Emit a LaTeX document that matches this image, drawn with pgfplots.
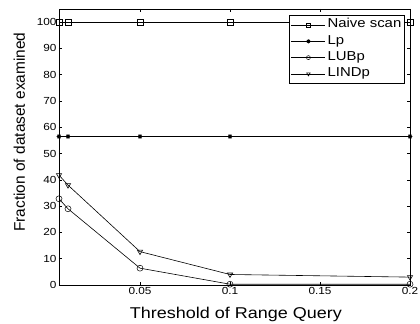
\documentclass[border=0pt]{standalone}
\usepackage{pgfplots}
\pgfplotsset{compat=1.18}
\usepackage{fontspec}
\setmainfont[FakeStretch=1.15]{Liberation Sans}
\newfontfamily\ylabfont{Liberation Sans}
\pgfdeclareplotmark{ast8}{%
  \pgfpathmoveto{\pgfqpoint{-\pgfplotmarksize}{0pt}}\pgfpathlineto{\pgfqpoint{\pgfplotmarksize}{0pt}}%
  \pgfpathmoveto{\pgfqpoint{0pt}{-\pgfplotmarksize}}\pgfpathlineto{\pgfqpoint{0pt}{\pgfplotmarksize}}%
  \pgfpathmoveto{\pgfqpoint{-0.707\pgfplotmarksize}{-0.707\pgfplotmarksize}}\pgfpathlineto{\pgfqpoint{0.707\pgfplotmarksize}{0.707\pgfplotmarksize}}%
  \pgfpathmoveto{\pgfqpoint{-0.707\pgfplotmarksize}{0.707\pgfplotmarksize}}\pgfpathlineto{\pgfqpoint{0.707\pgfplotmarksize}{-0.707\pgfplotmarksize}}%
  \pgfusepathqstroke}
\begin{document}
\begin{tikzpicture}
\begin{axis}[
  scale only axis,
  width=351bp, height=276bp,
  xmin=0.005, xmax=0.2, ymin=0, ymax=105,
  clip=false,
  xtick={0.05,0.1,0.15,0.2},
  xticklabels={0.05,0.1,0.15,0.2},
  ytick={0,10,...,100},
  tick align=inside,
  tick style={black, line width=0.5pt},
  major tick length=3.5bp,
  /pgf/number format/assume math mode=true,
  ticklabel style={font=\fontsize{10.3}{12}\selectfont},
  xticklabel style={yshift=1bp},
  yticklabel style={xshift=1bp},
  xlabel={Threshold of Range Query},
  ylabel={Fraction of dataset examined},
  xlabel style={font=\fontsize{15.7}{18}\selectfont, at={(axis description cs:0.504,-0.1214)}, anchor=base},
  ylabel style={font=\ylabfont\fontsize{15.5}{18}\selectfont, at={(axis description cs:-0.0969,0.554)}, anchor=base},
  axis line style={line width=0.7pt},
  legend style={at={(axis description cs:0.9858,0.978)}, anchor=north east,
    font=\fontsize{13}{15}\selectfont, draw=black, line width=0.6pt, inner sep=1.5bp,
    nodes={text height=9bp, text depth=3.5bp, inner sep=1.9bp}, row sep=0pt},
  legend cell align=left,
  legend image code/.code={\draw[mark repeat=2,mark phase=2,#1, mark size=2bp] plot coordinates {(0bp,0bp) (17bp,0bp) (34bp,0bp)};},
  every axis plot/.append style={black, line width=0.6pt, mark size=3bp, mark options={solid, line width=0.5pt, fill=none}},
]
\addplot[mark=square] coordinates {(0.005,100) (0.01,100) (0.05,100) (0.1,100) (0.2,100)};
\addlegendentry{Naive scan}
\addplot[mark=ast8, mark options={line width=0.8pt}, mark size=2.4bp] coordinates {(0.005,56.5) (0.01,56.5) (0.05,56.5) (0.1,56.5) (0.2,56.5)};
\addlegendentry{Lp}
\addplot[mark=o] coordinates {(0.005,32.8) (0.01,29.0) (0.05,6.4) (0.1,0.3) (0.2,0.3)};
\addlegendentry{LUBp}
\addplot[mark=triangle, mark options={rotate=180}] coordinates {(0.005,41.8) (0.01,38.0) (0.05,12.7) (0.1,4.0) (0.2,3.0)};
\addlegendentry{LINDp}
\end{axis}
\pgfresetboundingbox
\path[use as bounding box] ([xshift=-59bp,yshift=-39bp]current axis.south west) rectangle ([xshift=10bp,yshift=9bp]current axis.north east);
\end{tikzpicture}
\end{document}
